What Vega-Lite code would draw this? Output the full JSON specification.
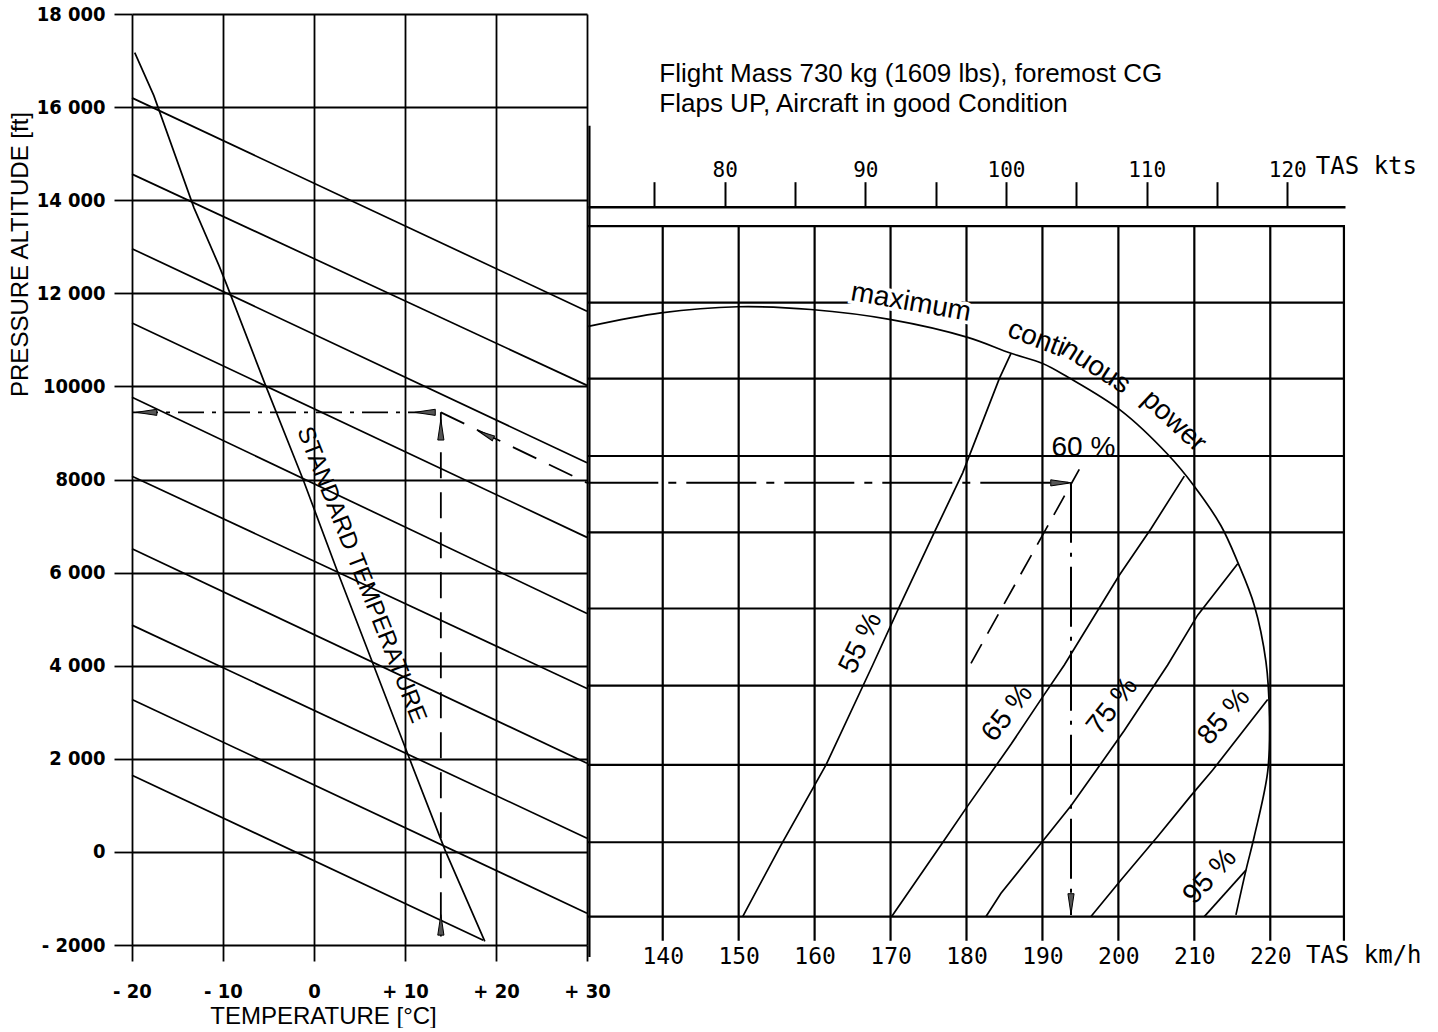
{
  "$schema": "https://vega.github.io/schema/vega-lite/v6.json",
  "background": "white",
  "padding": {"left": 7, "top": 4, "right": 0, "bottom": 0},
  "spacing": 1,
  "bounds": "flush",
  "config": {
    "view": {"stroke": null},
    "font": "Liberation Sans",
    "axis": {"labelColor": "black", "titleColor": "black", "labelFlush": false, "labelOverlap": false}
  },
  "hconcat": [
    {
      "width": 455,
      "height": 931,
      "encoding": {
        "x": {
          "field": "t", "type": "quantitative",
          "scale": {"domain": [-20, 30], "nice": false, "zero": false},
          "axis": {
            "values": [-20, -10, 0, 10, 20, 30],
            "grid": true, "gridColor": "black", "gridWidth": 1.8, "gridOpacity": 1,
            "domain": false, "ticks": true, "tickSize": 16, "tickColor": "black", "tickWidth": 1.8,
            "labelExpr": "datum.value == -20 ? '- 20' : datum.value == -10 ? '- 10' : datum.value == 0 ? '0' : '+ ' + datum.value",
            "labelFont": "Liberation Sans Narrow, DejaVu Sans Condensed, Arial Narrow, sans-serif",
            "labelFontSize": 20, "labelFontWeight": "bold", "labelPadding": 20,
            "title": "TEMPERATURE [°C]", "titleFont": "Liberation Sans", "titleFontSize": 24, "titleFontWeight": "normal",
            "titleX": 191, "titleY": 71, "titleBaseline": "middle", "titleAlign": "center"
          }
        },
        "y": {
          "field": "ft", "type": "quantitative",
          "scale": {"domain": [-2000, 18000], "nice": false, "zero": false},
          "axis": {
            "values": [-2000, 0, 2000, 4000, 6000, 8000, 10000, 12000, 14000, 16000, 18000],
            "grid": true, "gridColor": "black", "gridWidth": 1.8, "gridOpacity": 1,
            "domain": false, "ticks": true, "tickSize": 18, "tickColor": "black", "tickWidth": 1.8,
            "labelExpr": "datum.value == -2000 ? '- 2000' : datum.value == 0 ? '0' : datum.value == 10000 ? '10000' : datum.value == 8000 ? '8000' : floor(datum.value / 1000) + ' 000'",
            "labelFont": "Liberation Sans Narrow, DejaVu Sans Condensed, Arial Narrow, sans-serif",
            "labelFontSize": 20, "labelFontWeight": "bold", "labelPadding": 9,
            "title": "PRESSURE ALTITUDE [ft]", "titleFont": "Liberation Sans", "titleFontSize": 24, "titleFontWeight": "normal",
            "titleX": -112, "titleY": 240, "titleAngle": -90, "titleBaseline": "middle", "titleAlign": "center"
          }
        }
      },
      "layer": [
        {
          "data": {"values": [
            {"id": "A", "t": -20, "ft": 16198}, {"id": "A", "t": 30, "ft": 11615},
            {"id": "B", "t": -20, "ft": 14560}, {"id": "B", "t": 30, "ft": 10022},
            {"id": "C", "t": -20, "ft": 12958}, {"id": "C", "t": 30, "ft": 8360},
            {"id": "D", "t": -20, "ft": 11363}, {"id": "D", "t": 30, "ft": 6757},
            {"id": "E", "t": -20, "ft": 9768}, {"id": "E", "t": 30, "ft": 5122},
            {"id": "F", "t": -20, "ft": 8071}, {"id": "F", "t": 30, "ft": 3511},
            {"id": "G", "t": -20, "ft": 6511}, {"id": "G", "t": 30, "ft": 1905},
            {"id": "H", "t": -20, "ft": 4872}, {"id": "H", "t": 30, "ft": 295},
            {"id": "I", "t": -20, "ft": 3276}, {"id": "I", "t": 30, "ft": -1316},
            {"id": "J", "t": -20, "ft": 1648}, {"id": "J", "t": 18.6, "ft": -1900}
          ]},
          "mark": {"type": "line", "color": "black", "strokeWidth": 1.7},
          "encoding": {"detail": {"field": "id"}}
        },
        {
          "data": {"values": [
            {"i": 1, "t": -19.7, "ft": 17170}, {"i": 2, "t": -17.6, "ft": 16247},
            {"i": 3, "t": -13.2, "ft": 13841}, {"i": 4, "t": -10.45, "ft": 12600},
            {"i": 5, "t": -9.6, "ft": 12186}, {"i": 6, "t": -5.4, "ft": 10059},
            {"i": 7, "t": -1.2, "ft": 8000}, {"i": 8, "t": 2.6, "ft": 6013},
            {"i": 9, "t": 10.5, "ft": 2000}, {"i": 10, "t": 14.4, "ft": 37},
            {"i": 11, "t": 18.77, "ft": -1923}
          ]},
          "mark": {"type": "line", "color": "black", "strokeWidth": 1.7},
          "encoding": {"order": {"field": "i"}}
        },
        {
          "data": {"values": [{"i": 1, "t": -20, "ft": 9443}, {"i": 2, "t": 13.94, "ft": 9443}]},
          "mark": {"type": "line", "color": "black", "strokeWidth": 1.8, "strokeDash": [26, 8, 4, 8]},
          "encoding": {"order": {"field": "i"}}
        },
        {
          "data": {"values": [
            {"seg": "v", "i": 1, "t": 13.94, "ft": 9443}, {"seg": "v", "i": 2, "t": 13.94, "ft": -1816},
            {"seg": "s", "i": 1, "t": 13.94, "ft": 9443}, {"seg": "s", "i": 2, "t": 30, "ft": 7928}
          ]},
          "mark": {"type": "line", "color": "black", "strokeWidth": 1.8, "strokeDash": [26, 14]},
          "encoding": {"detail": {"field": "seg"}, "order": {"field": "i"}}
        },
        {
          "data": {"values": [{"t": -18.4, "ft": 9443}, {"t": 12.2, "ft": 9443}]},
          "mark": {"type": "point", "shape": "M -1 0 L 1 -0.3 L 1 0.3 Z", "size": 420, "filled": true, "fill": "#555", "stroke": "black", "strokeWidth": 1, "opacity": 1}
        },
        {
          "data": {"values": [{"t": 13.94, "ft": 9068}, {"t": 13.94, "ft": -1568}]},
          "mark": {"type": "point", "shape": "M 0 -1 L -0.3 1 L 0.3 1 Z", "size": 420, "filled": true, "fill": "#555", "stroke": "black", "strokeWidth": 1, "opacity": 1}
        },
        {
          "data": {"values": [{"t": 18.86, "ft": 8965}]},
          "mark": {"type": "point", "shape": "M 0 -1 L -0.3 1 L 0.3 1 Z", "size": 300, "angle": 296, "filled": true, "fill": "#555", "stroke": "black", "strokeWidth": 1, "opacity": 1}
        },
        {
          "data": {"values": [{"t": 5.2, "ft": 5950, "label": "STANDARD TEMPERATURE"}]},
          "mark": {"type": "text", "angle": 68.5, "font": "Liberation Sans", "fontSize": 24, "color": "black", "align": "center", "baseline": "middle"},
          "encoding": {"text": {"field": "label"}}
        }
      ]
    },
    {
      "width": 757,
      "height": 931,
      "resolve": {"scale": {"x": "independent"}, "axis": {"x": "independent"}},
      "layer": [
        {
          "encoding": {
            "x": {
              "field": "kmh", "type": "quantitative",
              "scale": {"domain": [130.16, 229.84], "nice": false, "zero": false},
              "axis": {
                "values": [140, 150, 160, 170, 180, 190, 200, 210, 220],
                "grid": false, "domain": false, "ticks": false, "tickSize": 0, "labelPadding": 0,
                "labelFont": "DejaVu Sans Mono", "labelFontSize": 23, "title": null
              }
            },
            "y": {
              "field": "ft", "type": "quantitative",
              "scale": {"domain": [-2000, 18000], "nice": false, "zero": false},
              "axis": null
            }
          },
          "layer": [
            {
              "data": {"values": [
                {"kmh": 140, "ft": 13442, "ft2": -1910}, {"kmh": 150, "ft": 13442, "ft2": -1910},
                {"kmh": 160, "ft": 13442, "ft2": -1910}, {"kmh": 170, "ft": 13442, "ft2": -1910},
                {"kmh": 180, "ft": 13442, "ft2": -1910}, {"kmh": 190, "ft": 13442, "ft2": -1910},
                {"kmh": 200, "ft": 13442, "ft2": -1910}, {"kmh": 210, "ft": 13442, "ft2": -1910},
                {"kmh": 220, "ft": 13442, "ft2": -1910}, {"kmh": 229.7, "ft": 13442, "ft2": -1910},
                {"kmh": 130.35, "ft": 15602, "ft2": -2256}
              ]},
              "mark": {"type": "rule", "color": "black", "strokeWidth": 2.2},
              "encoding": {"y2": {"field": "ft2"}}
            },
            {
              "data": {"values": [
                {"ft": 13442, "kmh": 130.16, "kmh2": 229.84}, {"ft": 11798, "kmh": 130.16, "kmh2": 229.84},
                {"ft": 10167, "kmh": 130.16, "kmh2": 229.84}, {"ft": 8505, "kmh": 130.16, "kmh2": 229.84},
                {"ft": 6864, "kmh": 130.16, "kmh2": 229.84}, {"ft": 5229, "kmh": 130.16, "kmh2": 229.84},
                {"ft": 3571, "kmh": 130.16, "kmh2": 229.84}, {"ft": 1868, "kmh": 130.16, "kmh2": 229.84},
                {"ft": 207, "kmh": 130.16, "kmh2": 229.84}, {"ft": -1389, "kmh": 130.16, "kmh2": 229.84}
              ]},
              "mark": {"type": "rule", "color": "black", "strokeWidth": 2.2},
              "encoding": {"x2": {"field": "kmh2"}}
            },
            {
              "data": {"values": [
                {"i": 1, "kmh": 130.2, "ft": 11289}, {"i": 2, "kmh": 139.78, "ft": 11580},
                {"i": 3, "kmh": 149.87, "ft": 11711}, {"i": 4, "kmh": 159.53, "ft": 11652},
                {"i": 5, "kmh": 170.06, "ft": 11435}, {"i": 6, "kmh": 180.16, "ft": 11054},
                {"i": 7, "kmh": 185.86, "ft": 10711}, {"i": 8, "kmh": 190.03, "ft": 10493},
                {"i": 9, "kmh": 193.32, "ft": 10202}, {"i": 10, "kmh": 200.34, "ft": 9480},
                {"i": 11, "kmh": 206.49, "ft": 8542}, {"i": 12, "kmh": 209.99, "ft": 7857},
                {"i": 13, "kmh": 213.51, "ft": 7006}, {"i": 14, "kmh": 215.71, "ft": 6225},
                {"i": 15, "kmh": 217.89, "ft": 5300}, {"i": 16, "kmh": 219.43, "ft": 4086},
                {"i": 17, "kmh": 219.89, "ft": 2904}, {"i": 18, "kmh": 219.66, "ft": 1723},
                {"i": 19, "kmh": 217.89, "ft": 330}, {"i": 20, "kmh": 216.8, "ft": -391},
                {"i": 21, "kmh": 215.48, "ft": -1353}
              ]},
              "mark": {"type": "line", "color": "black", "strokeWidth": 1.7, "interpolate": "catmull-rom"},
              "encoding": {"order": {"field": "i"}}
            },
            {
              "data": {"values": [
                {"pct": 55, "i": 1, "kmh": 150.53, "ft": -1389}, {"pct": 55, "i": 2, "kmh": 155.57, "ft": 147},
                {"pct": 55, "i": 3, "kmh": 161.5, "ft": 1868}, {"pct": 55, "i": 4, "kmh": 167.65, "ft": 4015},
                {"pct": 55, "i": 5, "kmh": 171.15, "ft": 5263}, {"pct": 55, "i": 6, "kmh": 175.76, "ft": 6864},
                {"pct": 55, "i": 7, "kmh": 179.5, "ft": 8143}, {"pct": 55, "i": 8, "kmh": 184.32, "ft": 10167},
                {"pct": 55, "i": 9, "kmh": 185.86, "ft": 10711},
                {"pct": 65, "i": 1, "kmh": 170.15, "ft": -1389}, {"pct": 65, "i": 2, "kmh": 176.64, "ft": 147},
                {"pct": 65, "i": 3, "kmh": 180.16, "ft": 989}, {"pct": 65, "i": 4, "kmh": 185.86, "ft": 2311},
                {"pct": 65, "i": 5, "kmh": 189.81, "ft": 3276}, {"pct": 65, "i": 6, "kmh": 192.88, "ft": 4015},
                {"pct": 65, "i": 7, "kmh": 200.12, "ft": 5942}, {"pct": 65, "i": 8, "kmh": 204.29, "ft": 6943},
                {"pct": 65, "i": 9, "kmh": 208.68, "ft": 8072},
                {"pct": 75, "i": 1, "kmh": 182.57, "ft": -1389}, {"pct": 75, "i": 2, "kmh": 184.54, "ft": -889},
                {"pct": 75, "i": 3, "kmh": 189.81, "ft": 185}, {"pct": 75, "i": 4, "kmh": 193.76, "ft": 989},
                {"pct": 75, "i": 5, "kmh": 197.27, "ft": 1796}, {"pct": 75, "i": 6, "kmh": 200.78, "ft": 2609},
                {"pct": 75, "i": 7, "kmh": 206.49, "ft": 4015}, {"pct": 75, "i": 8, "kmh": 210.44, "ft": 5086},
                {"pct": 75, "i": 9, "kmh": 215.71, "ft": 6191},
                {"pct": 85, "i": 1, "kmh": 196.39, "ft": -1389}, {"pct": 85, "i": 2, "kmh": 200.34, "ft": -605},
                {"pct": 85, "i": 3, "kmh": 205.17, "ft": 330}, {"pct": 85, "i": 4, "kmh": 209.56, "ft": 1209},
                {"pct": 85, "i": 5, "kmh": 212.42, "ft": 1758}, {"pct": 85, "i": 6, "kmh": 219.66, "ft": 3276},
                {"pct": 95, "i": 1, "kmh": 211.31, "ft": -1389}, {"pct": 95, "i": 2, "kmh": 216.8, "ft": -391}
              ]},
              "mark": {"type": "line", "color": "black", "strokeWidth": 1.7},
              "encoding": {"detail": {"field": "pct"}, "order": {"field": "i"}}
            },
            {
              "data": {"values": [{"i": 1, "kmh": 180.59, "ft": 4051}, {"i": 2, "kmh": 194.85, "ft": 8217}]},
              "mark": {"type": "line", "color": "black", "strokeWidth": 1.7, "strokeDash": [22, 12]},
              "encoding": {"order": {"field": "i"}}
            },
            {
              "data": {"values": [{"i": 1, "kmh": 130.2, "ft": 7928}, {"i": 2, "kmh": 193.76, "ft": 7928}]},
              "mark": {"type": "line", "color": "black", "strokeWidth": 2, "strokeDash": [70, 10, 8, 10]},
              "encoding": {"order": {"field": "i"}}
            },
            {
              "data": {"values": [{"i": 1, "kmh": 193.76, "ft": 7928}, {"i": 2, "kmh": 193.76, "ft": -1353}]},
              "mark": {"type": "line", "color": "black", "strokeWidth": 2, "strokeDash": [60, 10, 4, 10]},
              "encoding": {"order": {"field": "i"}}
            },
            {
              "data": {"values": [{"kmh": 192.44, "ft": 7928}]},
              "mark": {"type": "point", "shape": "M 1 0 L -1 -0.3 L -1 0.3 Z", "size": 420, "filled": true, "fill": "#555", "stroke": "black", "strokeWidth": 1, "opacity": 1}
            },
            {
              "data": {"values": [{"kmh": 193.76, "ft": -1118}]},
              "mark": {"type": "point", "shape": "M 0 1 L -0.3 -1 L 0.3 -1 Z", "size": 420, "filled": true, "fill": "#555", "stroke": "black", "strokeWidth": 1, "opacity": 1}
            },
            {
              "data": {"values": [
                {"kmh": 139.55, "ft": 16532, "label": "Flight Mass 730 kg (1609 lbs), foremost CG"},
                {"kmh": 139.55, "ft": 15894, "label": "Flaps UP, Aircraft in good Condition"}
              ]},
              "mark": {"type": "text", "font": "Liberation Sans", "fontSize": 26, "color": "black", "align": "left", "baseline": "alphabetic"},
              "encoding": {"text": {"field": "label"}}
            },
            {
              "data": {"values": [
                {"kmh": 226.0, "ft": 14723, "label": "TAS kts"},
                {"kmh": 224.7, "ft": -2239, "label": "TAS km/h"}
              ]},
              "mark": {"type": "text", "font": "DejaVu Sans Mono", "fontSize": 24, "color": "black", "align": "left", "baseline": "middle"},
              "encoding": {"text": {"field": "label"}}
            },
            {
              "data": {"values": [{"kmh": 195.4, "ft": 8667, "label": "60 %"}]},
              "mark": {"type": "text", "font": "Liberation Sans", "fontSize": 28, "color": "black", "align": "center", "baseline": "middle"},
              "encoding": {"text": {"field": "label"}}
            },
            {
              "data": {"values": [{"kmh": 166.1, "ft": 4486, "label": "55 %"}]},
              "mark": {"type": "text", "angle": -64, "font": "Liberation Sans", "fontSize": 28, "color": "black", "align": "center", "baseline": "middle"},
              "encoding": {"text": {"field": "label"}}
            },
            {
              "data": {"values": [{"kmh": 185.42, "ft": 2978, "label": "65 %"}, {"kmh": 199.25, "ft": 3127, "label": "75 %"}]},
              "mark": {"type": "text", "angle": -52, "font": "Liberation Sans", "fontSize": 28, "color": "black", "align": "center", "baseline": "middle"},
              "encoding": {"text": {"field": "label"}}
            },
            {
              "data": {"values": [{"kmh": 213.94, "ft": 2904, "label": "85 %"}]},
              "mark": {"type": "text", "angle": -50, "font": "Liberation Sans", "fontSize": 28, "color": "black", "align": "center", "baseline": "middle"},
              "encoding": {"text": {"field": "label"}}
            },
            {
              "data": {"values": [{"kmh": 212.09, "ft": -534, "label": "95 %"}]},
              "mark": {"type": "text", "angle": -47, "font": "Liberation Sans", "fontSize": 28, "color": "black", "align": "center", "baseline": "middle"},
              "encoding": {"text": {"field": "label"}}
            },
            {
              "data": {"values": [{"kmh": 172.69, "ft": 11800, "label": "maximum"}]},
              "mark": {"type": "text", "angle": 10, "font": "Liberation Sans", "fontSize": 28, "color": "white", "stroke": "white", "strokeWidth": 7, "align": "center", "baseline": "middle"},
              "encoding": {"text": {"field": "label"}}
            },
            {
              "data": {"values": [{"kmh": 172.69, "ft": 11800, "label": "maximum"}]},
              "mark": {"type": "text", "angle": 10, "font": "Liberation Sans", "fontSize": 28, "color": "black", "align": "center", "baseline": "middle"},
              "encoding": {"text": {"field": "label"}}
            },
            {
              "data": {"values": [{"kmh": 189.2, "ft": 11020, "label": "conti"}]},
              "mark": {"type": "text", "angle": 21, "font": "Liberation Sans", "fontSize": 28, "color": "black", "align": "center", "baseline": "middle"},
              "encoding": {"text": {"field": "label"}}
            },
            {
              "data": {"values": [{"kmh": 197.0, "ft": 10420, "label": "nuous"}]},
              "mark": {"type": "text", "angle": 33, "font": "Liberation Sans", "fontSize": 28, "color": "black", "align": "center", "baseline": "middle"},
              "encoding": {"text": {"field": "label"}}
            },
            {
              "data": {"values": [{"kmh": 207.3, "ft": 9250, "label": "power"}]},
              "mark": {"type": "text", "angle": 43, "font": "Liberation Sans", "fontSize": 28, "color": "black", "align": "center", "baseline": "middle"},
              "encoding": {"text": {"field": "label"}}
            }
          ]
        },
        {
          "data": {"values": [
            {"kts": 75}, {"kts": 80}, {"kts": 85}, {"kts": 90}, {"kts": 95},
            {"kts": 100}, {"kts": 105}, {"kts": 110}, {"kts": 115}, {"kts": 120}
          ]},
          "mark": {"type": "rule", "opacity": 0},
          "encoding": {
            "x": {
              "field": "kts", "type": "quantitative",
              "scale": {"domain": [70.281, 124.104], "nice": false, "zero": false},
              "axis": {
                "orient": "top", "offset": -192.7,
                "values": [75, 80, 85, 90, 95, 100, 105, 110, 115, 120],
                "labelExpr": "datum.value % 10 == 0 ? datum.value : ''",
                "domain": true, "domainColor": "black", "domainWidth": 2.5,
                "ticks": true, "tickSize": 25, "tickColor": "black", "tickWidth": 2,
                "grid": false, "labelFont": "DejaVu Sans Mono", "labelFontSize": 21, "labelPadding": 1,
                "title": null
              }
            }
          }
        }
      ]
    }
  ]
}
